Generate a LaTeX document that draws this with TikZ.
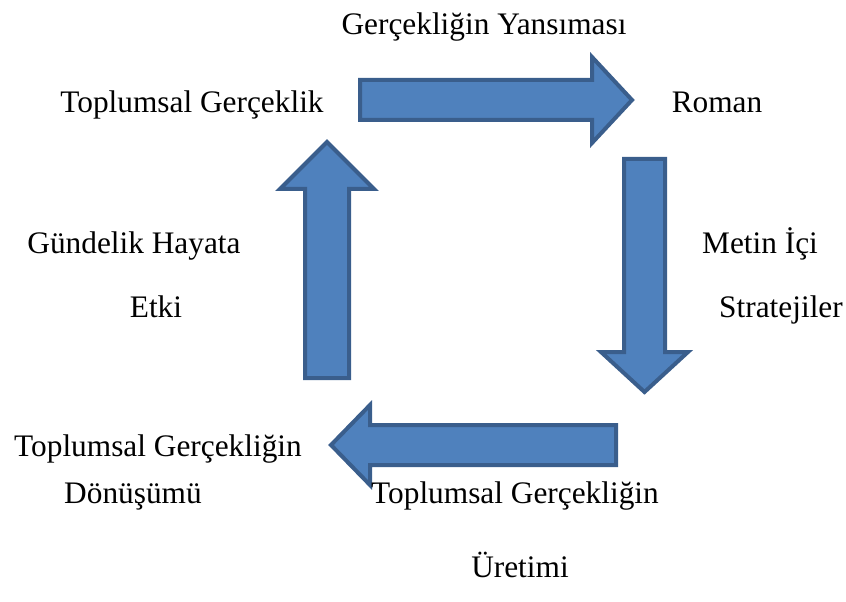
\documentclass[tikz,border=0pt]{standalone}
\usepackage{fontspec}
\setmainfont{Liberation Serif}
\newfontfamily\serifyazi{Liberation Serif}
\definecolor{okdolgu}{HTML}{4F81BD}
\definecolor{okkenar}{HTML}{3A5E8C}
\tikzset{
  okblok/.style={fill=okdolgu, draw=okkenar, line width=3pt, line join=miter},
  etiket/.style={font=\serifyazi\fontsize{23.5pt}{28pt}\selectfont, inner sep=0pt, anchor=base}
}
\begin{document}
\begin{tikzpicture}[x=0.75pt, y=-0.75pt]
      \useasboundingbox (0,0) rectangle (846,602);
      \draw[okblok] (360,80) -- (592,80) -- (592,57) -- (632,100) -- (592,143) -- (592,120) -- (360,120) -- cycle;
      \draw[okblok] (624,159) -- (665,159) -- (665,352) -- (688,352) -- (644.5,392) -- (601,352) -- (624,352) -- cycle;
      \draw[okblok] (616,425) -- (370,425) -- (370,405) -- (331,445) -- (370,485) -- (370,465) -- (616,465) -- cycle;
      \draw[okblok] (305,378) -- (305,189) -- (280,189) -- (327,142) -- (374,189) -- (349,189) -- (349,378) -- cycle;
      \node[etiket] (yansima) at (484,35) {Gerçekliğin Yansıması};
      \node[etiket] (gerceklik) at (192,113) {Toplumsal Gerçeklik};
      \node[etiket] (roman) at (717,113) {Roman};
      \node[etiket] (gundelik) at (134,254) {Gündelik Hayata};
      \node[etiket] (etki) at (156,317) {Etki};
      \node[etiket] (metin) at (760,254) {Metin İçi};
      \node[etiket] (strateji) at (781,317) {Stratejiler};
      \node[etiket] (donusum1) at (158,456) {Toplumsal Gerçekliğin};
      \node[etiket] (donusum2) at (133,503) {Dönüşümü};
      \node[etiket] (uretim1) at (515,503) {Toplumsal Gerçekliğin};
      \node[etiket] (uretim2) at (520,577) {Üretimi};
\end{tikzpicture}
\end{document}
